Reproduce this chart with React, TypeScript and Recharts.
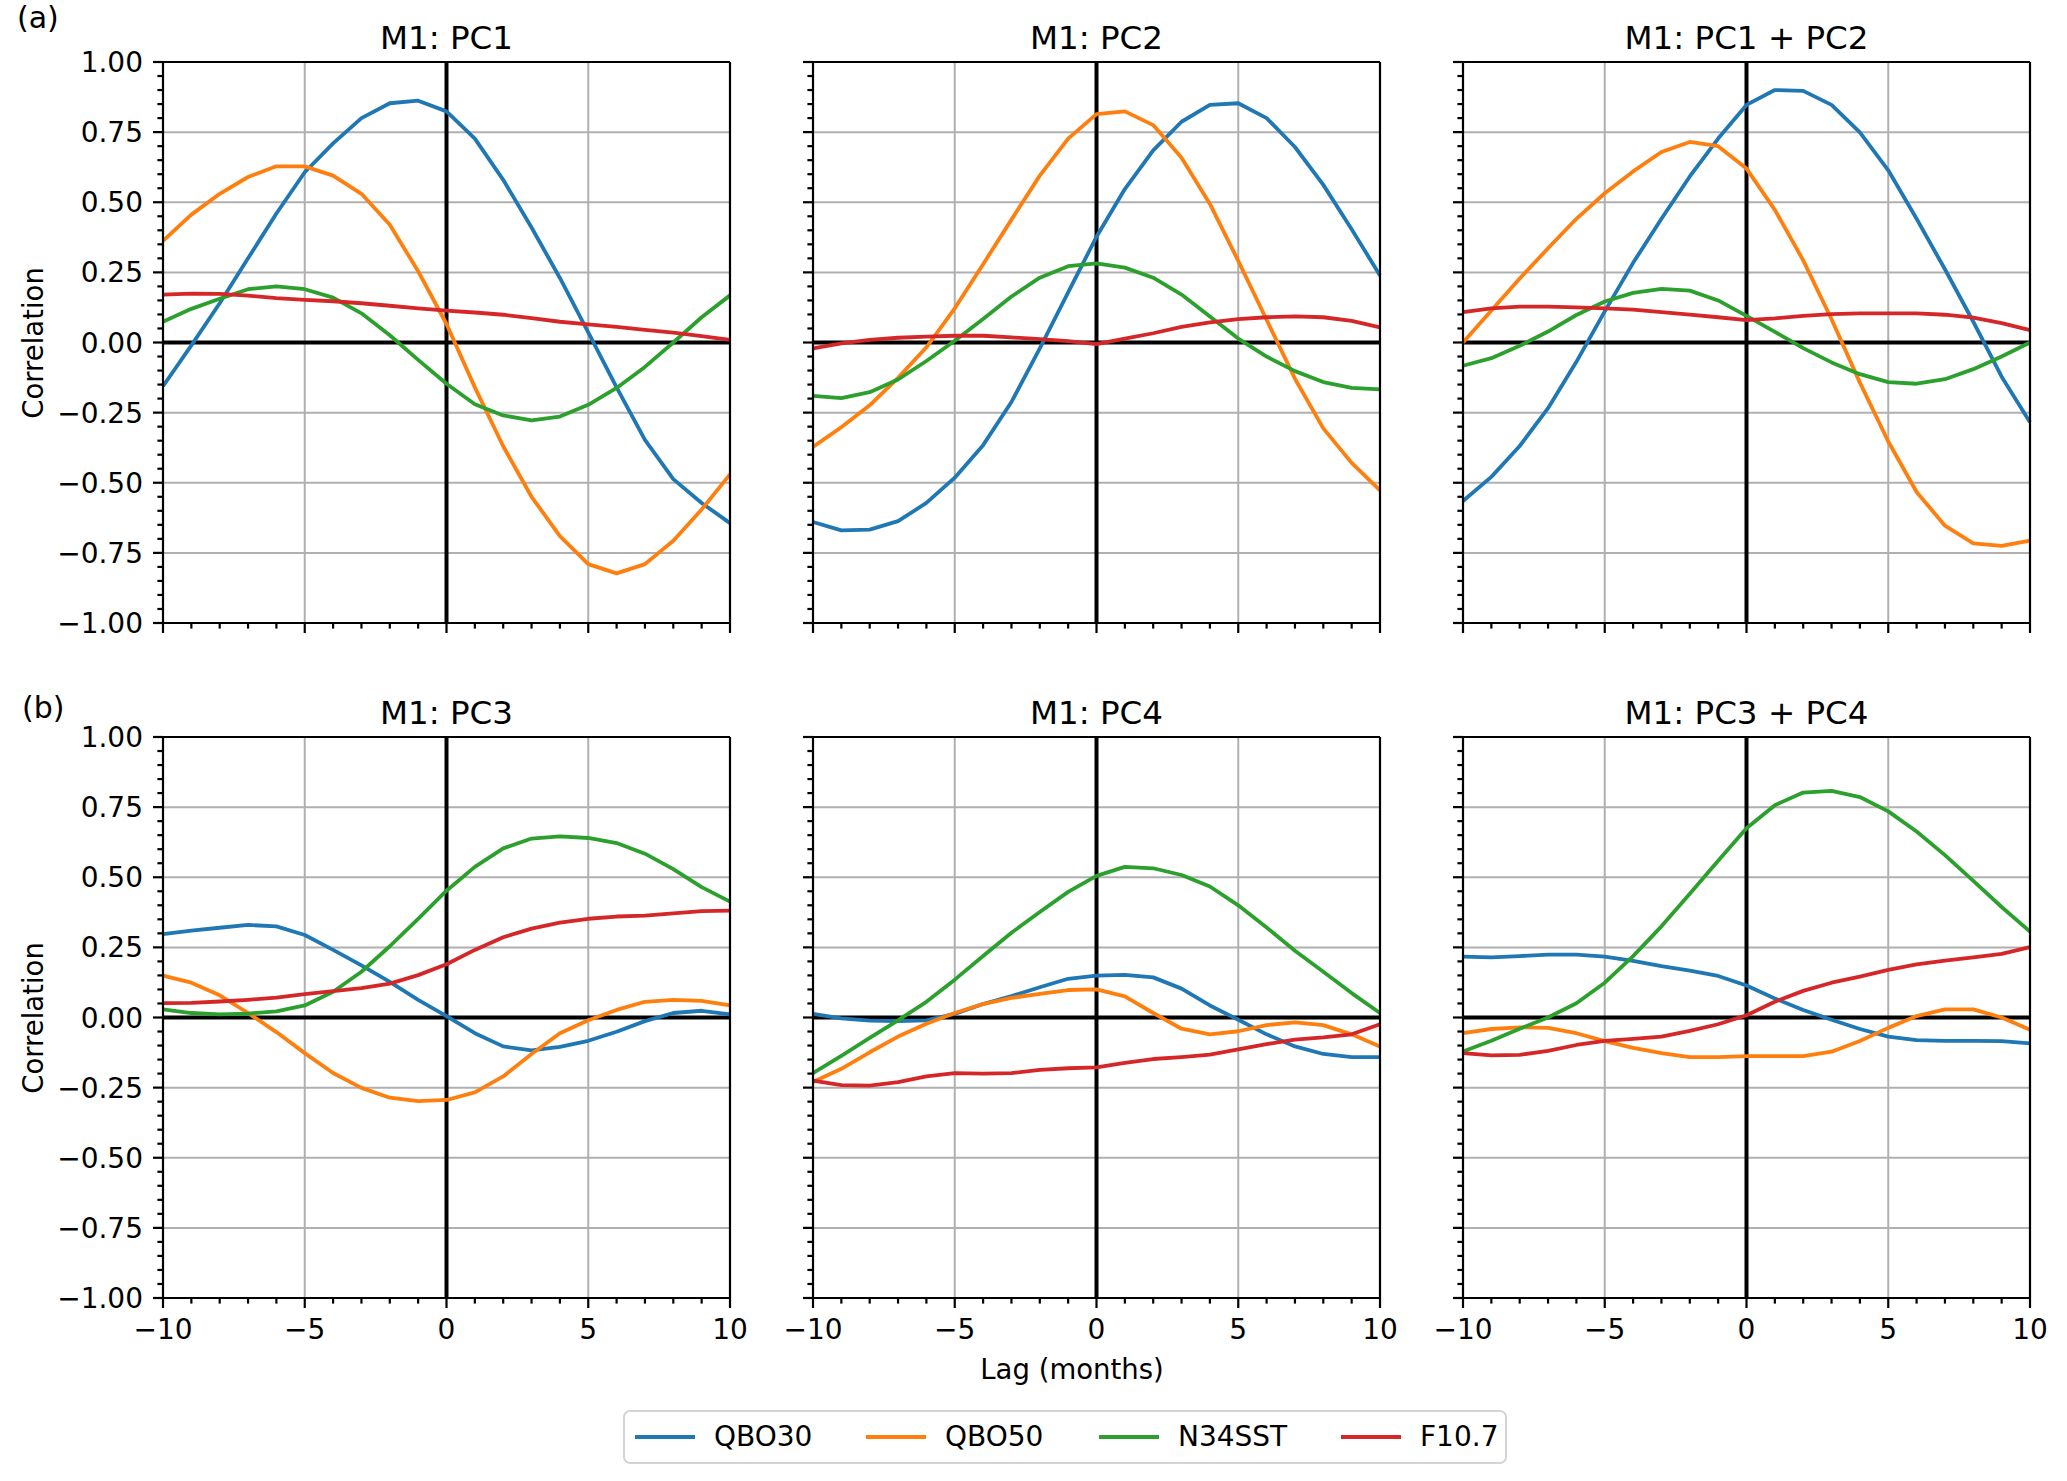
import * as React from "react";
import {
  LineChart,
  Line,
  XAxis,
  YAxis,
  CartesianGrid,
  ReferenceLine,
} from "recharts";

// tab10 colours used by matplotlib
const SERIES = ["QBO30", "QBO50", "N34SST", "F10.7"];
const COLORS = ["#1f77b4", "#ff7f0e", "#2ca02c", "#d62728"];

const LAGS = [-10, -9, -8, -7, -6, -5, -4, -3, -2, -1, 0, 1, 2, 3, 4, 5, 6, 7, 8, 9, 10];
const X_MAJOR = [-10, -5, 0, 5, 10];
const Y_MAJOR = [-1, -0.75, -0.5, -0.25, 0, 0.25, 0.5, 0.75, 1];

// ── M1: PC1 ─────────────────────────────────────────────
const pc1Qbo30 = [-0.156, -0.01, 0.14, 0.3, 0.46, 0.607, 0.71, 0.8, 0.853, 0.862, 0.824, 0.727, 0.58, 0.41, 0.23, 0.036, -0.16, -0.347, -0.487, -0.572, -0.644];
const pc1Qbo50 = [0.362, 0.456, 0.53, 0.59, 0.628, 0.628, 0.595, 0.53, 0.42, 0.254, 0.066, -0.16, -0.37, -0.55, -0.69, -0.79, -0.823, -0.79, -0.707, -0.595, -0.47];
const pc1N34 = [0.074, 0.12, 0.156, 0.19, 0.2, 0.19, 0.16, 0.104, 0.026, -0.062, -0.147, -0.22, -0.26, -0.278, -0.264, -0.222, -0.162, -0.087, 0.0, 0.09, 0.168];
const pc1F107 = [0.171, 0.174, 0.173, 0.167, 0.158, 0.152, 0.147, 0.14, 0.131, 0.122, 0.114, 0.107, 0.099, 0.087, 0.074, 0.065, 0.056, 0.045, 0.035, 0.023, 0.009];

// ── M1: PC2 ─────────────────────────────────────────────
const pc2Qbo30 = [-0.64, -0.67, -0.667, -0.637, -0.572, -0.482, -0.366, -0.212, -0.021, 0.179, 0.377, 0.547, 0.685, 0.787, 0.847, 0.853, 0.8, 0.697, 0.562, 0.404, 0.239];
const pc2Qbo50 = [-0.372, -0.302, -0.224, -0.126, -0.017, 0.122, 0.279, 0.438, 0.595, 0.727, 0.814, 0.824, 0.775, 0.659, 0.494, 0.291, 0.081, -0.129, -0.306, -0.429, -0.527];
const pc2N34 = [-0.19, -0.198, -0.177, -0.132, -0.066, 0.006, 0.084, 0.164, 0.231, 0.272, 0.282, 0.267, 0.231, 0.171, 0.093, 0.014, -0.05, -0.102, -0.141, -0.162, -0.167];
const pc2F107 = [-0.021, -0.003, 0.009, 0.017, 0.021, 0.024, 0.024, 0.018, 0.012, 0.005, -0.006, 0.014, 0.033, 0.056, 0.072, 0.083, 0.09, 0.093, 0.09, 0.077, 0.054];

// ── M1: PC1 + PC2 ───────────────────────────────────────
const pc12Qbo30 = [-0.565, -0.479, -0.369, -0.234, -0.069, 0.111, 0.284, 0.441, 0.592, 0.727, 0.847, 0.9, 0.897, 0.847, 0.749, 0.614, 0.441, 0.261, 0.074, -0.122, -0.284];
const pc12Qbo50 = [0.0, 0.114, 0.228, 0.336, 0.441, 0.532, 0.61, 0.679, 0.715, 0.7, 0.62, 0.473, 0.293, 0.083, -0.143, -0.353, -0.533, -0.653, -0.716, -0.725, -0.706];
const pc12N34 = [-0.083, -0.056, -0.012, 0.039, 0.098, 0.146, 0.177, 0.191, 0.185, 0.15, 0.095, 0.038, -0.02, -0.071, -0.113, -0.141, -0.147, -0.131, -0.095, -0.05, 0.0];
const pc12F107 = [0.108, 0.122, 0.128, 0.128, 0.125, 0.122, 0.117, 0.108, 0.099, 0.09, 0.08, 0.086, 0.095, 0.101, 0.104, 0.104, 0.104, 0.099, 0.089, 0.069, 0.044];

// ── M1: PC3 ─────────────────────────────────────────────
const pc3Qbo30 = [0.297, 0.31, 0.32, 0.33, 0.325, 0.294, 0.241, 0.186, 0.127, 0.063, 0.005, -0.056, -0.103, -0.117, -0.105, -0.083, -0.051, -0.013, 0.016, 0.024, 0.011];
const pc3Qbo50 = [0.149, 0.124, 0.079, 0.016, -0.052, -0.127, -0.198, -0.251, -0.286, -0.298, -0.294, -0.267, -0.21, -0.13, -0.056, -0.01, 0.027, 0.056, 0.063, 0.059, 0.043];
const pc3N34 = [0.029, 0.016, 0.011, 0.014, 0.022, 0.043, 0.092, 0.163, 0.254, 0.352, 0.452, 0.537, 0.603, 0.638, 0.646, 0.64, 0.622, 0.584, 0.529, 0.465, 0.413];
const pc3F107 = [0.051, 0.052, 0.057, 0.063, 0.071, 0.083, 0.094, 0.105, 0.121, 0.151, 0.19, 0.241, 0.286, 0.317, 0.338, 0.352, 0.36, 0.363, 0.371, 0.379, 0.381];

// ── M1: PC4 ─────────────────────────────────────────────
const pc4Qbo30 = [0.013, -0.003, -0.011, -0.013, -0.01, 0.013, 0.048, 0.076, 0.108, 0.138, 0.149, 0.152, 0.143, 0.103, 0.043, -0.008, -0.06, -0.103, -0.13, -0.141, -0.141];
const pc4Qbo50 = [-0.23, -0.183, -0.124, -0.068, -0.022, 0.016, 0.048, 0.07, 0.084, 0.098, 0.1, 0.075, 0.016, -0.04, -0.06, -0.049, -0.027, -0.017, -0.027, -0.06, -0.103];
const pc4N34 = [-0.198, -0.137, -0.073, -0.01, 0.056, 0.135, 0.219, 0.302, 0.376, 0.448, 0.505, 0.537, 0.532, 0.508, 0.467, 0.4, 0.321, 0.238, 0.163, 0.087, 0.016];
const pc4F107 = [-0.225, -0.241, -0.243, -0.23, -0.21, -0.198, -0.2, -0.198, -0.187, -0.181, -0.178, -0.162, -0.148, -0.141, -0.132, -0.114, -0.095, -0.079, -0.071, -0.06, -0.024];

// ── M1: PC3 + PC4 ───────────────────────────────────────
const pc34Qbo30 = [0.217, 0.214, 0.219, 0.224, 0.224, 0.217, 0.202, 0.183, 0.167, 0.148, 0.114, 0.068, 0.027, -0.008, -0.041, -0.068, -0.081, -0.083, -0.083, -0.084, -0.092];
const pc34Qbo50 = [-0.056, -0.041, -0.035, -0.037, -0.056, -0.084, -0.108, -0.127, -0.141, -0.141, -0.138, -0.138, -0.138, -0.122, -0.084, -0.037, 0.005, 0.029, 0.029, 0.0, -0.044];
const pc34N34 = [-0.121, -0.083, -0.04, 0.0, 0.051, 0.124, 0.219, 0.325, 0.441, 0.559, 0.675, 0.757, 0.802, 0.808, 0.786, 0.735, 0.663, 0.579, 0.487, 0.394, 0.306];
const pc34F107 = [-0.127, -0.135, -0.133, -0.119, -0.098, -0.083, -0.076, -0.068, -0.048, -0.024, 0.008, 0.056, 0.095, 0.124, 0.146, 0.17, 0.189, 0.203, 0.214, 0.227, 0.251];

const FONT = "'DejaVu Sans', sans-serif";

// minor ticks: every month on x, every 0.05 on y
const X_TICKS = LAGS;
const Y_TICKS = Array.from({ length: 41 }, (_, i) => Math.round((-1 + i * 0.05) * 100) / 100);

// layout (page pixels)
const PLOT_W = 567;
const PLOT_H = 561;
const COL_LEFT = [163, 813, 1463];
const ROW_TOP = [62, 737];
const PAD_TOP = 30;
const PAD_RIGHT = 30;
const X_AXIS_H = 70;

const MAJOR_LEN = 10;
const MINOR_LEN = 5.6;
const TICK_W = 2.2;

const fmtY = (v: number) => v.toFixed(2).replace("-", "\u2212");
const fmtX = (v: number) => String(v).replace("-", "\u2212");
const isMajor = (v: number, list: number[]) => list.some((m) => Math.abs(m - v) < 1e-6);

function makeRows(series: number[][]) {
  return LAGS.map((lag, i) => {
    const row: Record<string, number> = { lag };
    SERIES.forEach((name, s) => {
      row[name] = series[s][i];
    });
    return row;
  });
}

interface PanelProps {
  title: string;
  series: number[][];
  col: number;
  row: number;
}

function Panel({ title, series, col, row }: PanelProps) {
  const showY = col === 0;
  const showX = row === 1;
  const yW = showY ? 150 : 50;
  const width = yW + PLOT_W + PAD_RIGHT;
  const height = PAD_TOP + PLOT_H + X_AXIS_H;
  const left = COL_LEFT[col] - yW;
  const top = ROW_TOP[row] - PAD_TOP;
  const bottom = PAD_TOP + PLOT_H;
  const data = makeRows(series);

  const yTick = (props: any) => {
    const { y, payload } = props;
    const major = isMajor(payload.value, Y_MAJOR);
    return (
      <g>
        <line x1={yW - (major ? MAJOR_LEN : MINOR_LEN)} x2={yW} y1={y} y2={y} stroke="#000" strokeWidth={TICK_W} />
        {showY && major && (
          <text x={yW - 20} y={y} dy="0.36em" textAnchor="end" fontFamily={FONT} fontSize={28} fill="#000">
            {fmtY(payload.value)}
          </text>
        )}
      </g>
    );
  };

  const xTick = (props: any) => {
    const { x, payload } = props;
    const major = isMajor(payload.value, X_MAJOR);
    return (
      <g>
        <line x1={x} x2={x} y1={bottom} y2={bottom + (major ? MAJOR_LEN : MINOR_LEN)} stroke="#000" strokeWidth={TICK_W} />
        {showX && major && (
          <text x={x} y={bottom + 41} textAnchor="middle" fontFamily={FONT} fontSize={28} fill="#000">
            {fmtX(payload.value)}
          </text>
        )}
      </g>
    );
  };

  return (
    <div style={{ position: "absolute", left, top, width, height }}>
      <div
        style={{
          position: "absolute",
          left: yW,
          width: PLOT_W,
          top: PAD_TOP - 40,
          textAlign: "center",
          fontFamily: FONT,
          fontSize: 32.5,
          lineHeight: "32px",
          whiteSpace: "nowrap",
        }}
      >
        {title}
      </div>
      <LineChart width={width} height={height} data={data} margin={{ top: PAD_TOP, right: PAD_RIGHT, bottom: 0, left: 0 }}>
        <CartesianGrid
          stroke="#b0b0b0"
          strokeWidth={2}
          horizontalValues={Y_MAJOR}
          verticalValues={X_MAJOR}
        />
        <XAxis
          dataKey="lag"
          type="number"
          domain={[-10, 10]}
          ticks={X_TICKS}
          interval={0}
          tick={xTick}
          tickLine={false}
          axisLine={false}
          height={X_AXIS_H}
        />
        <YAxis
          type="number"
          domain={[-1, 1]}
          ticks={Y_TICKS}
          interval={0}
          tick={yTick}
          tickLine={false}
          axisLine={false}
          width={yW}
        />
        <ReferenceLine y={0} stroke="#000" strokeWidth={4} />
        <ReferenceLine x={0} stroke="#000" strokeWidth={4} />
        {series.map((_, s) => (
          <Line
            key={SERIES[s]}
            type="linear"
            dataKey={SERIES[s]}
            stroke={COLORS[s]}
            strokeWidth={3.8}
            strokeLinejoin="round"
            dot={false}
            activeDot={false}
            isAnimationActive={false}
          />
        ))}
        <ReferenceLine y={1} stroke="#000" strokeWidth={TICK_W} />
        <ReferenceLine y={-1} stroke="#000" strokeWidth={TICK_W} />
        <ReferenceLine x={-10} stroke="#000" strokeWidth={TICK_W} />
        <ReferenceLine x={10} stroke="#000" strokeWidth={TICK_W} />
      </LineChart>
    </div>
  );
}

const PANELS = [
  { title: "M1: PC1", series: [pc1Qbo30, pc1Qbo50, pc1N34, pc1F107], col: 0, row: 0 },
  { title: "M1: PC2", series: [pc2Qbo30, pc2Qbo50, pc2N34, pc2F107], col: 1, row: 0 },
  { title: "M1: PC1 + PC2", series: [pc12Qbo30, pc12Qbo50, pc12N34, pc12F107], col: 2, row: 0 },
  { title: "M1: PC3", series: [pc3Qbo30, pc3Qbo50, pc3N34, pc3F107], col: 0, row: 1 },
  { title: "M1: PC4", series: [pc4Qbo30, pc4Qbo50, pc4N34, pc4F107], col: 1, row: 1 },
  { title: "M1: PC3 + PC4", series: [pc34Qbo30, pc34Qbo50, pc34N34, pc34F107], col: 2, row: 1 },
];

// legend entry x offsets inside the box (line start)
const LEGEND_X = [10, 241, 474, 716];

export default function App() {
  const text: React.CSSProperties = { position: "absolute", fontFamily: FONT, color: "#000", whiteSpace: "nowrap" };
  return (
    <div style={{ position: "absolute", left: 0, top: 0, width: 2067, height: 1481, background: "#fff", overflow: "hidden" }}>
      {PANELS.map((p) => (
        <Panel key={p.title} {...p} />
      ))}

      <div style={{ ...text, left: 17, top: 0, fontSize: 30, lineHeight: "35px" }}>(a)</div>
      <div style={{ ...text, left: 22, top: 690, fontSize: 30, lineHeight: "35px" }}>(b)</div>

      {ROW_TOP.map((t) => (
        <div
          key={t}
          style={{
            ...text,
            left: 33,
            top: t + PLOT_H / 2,
            fontSize: 27.5,
            transform: "translate(-50%, -50%) rotate(-90deg)",
          }}
        >
          Correlation
        </div>
      ))}

      <div style={{ ...text, left: 1072, top: 1354, fontSize: 27.5, lineHeight: "30px", transform: "translateX(-50%)" }}>
        Lag (months)
      </div>

      <div
        style={{
          position: "absolute",
          left: 623,
          top: 1410,
          width: 884,
          height: 54,
          boxSizing: "border-box",
          border: "2px solid #d4d4d4",
          borderRadius: 7,
        }}
      >
        {SERIES.map((name, i) => (
          <React.Fragment key={name}>
            <div
              style={{
                position: "absolute",
                left: LEGEND_X[i],
                top: 23,
                width: 60,
                height: 4,
                background: COLORS[i],
              }}
            />
            <div style={{ ...text, left: LEGEND_X[i] + 79, top: 9, fontSize: 28, lineHeight: "32px" }}>{name}</div>
          </React.Fragment>
        ))}
      </div>
    </div>
  );
}
